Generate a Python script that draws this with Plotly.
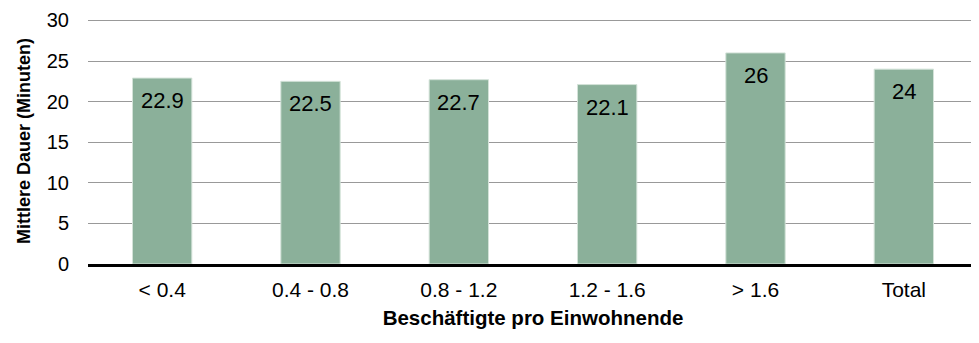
import plotly.graph_objects as go

categories = ['< 0.4', '0.4 - 0.8', '0.8 - 1.2', '1.2 - 1.6', '> 1.6', 'Total']
values = [22.9, 22.5, 22.7, 22.1, 26, 24]
labels = ['22.9', '22.5', '22.7', '22.1', '26', '24']

FONT = 'Liberation Sans, Arial, sans-serif'

fig = go.Figure(go.Bar(
    x=categories, y=values,
    marker=dict(color='#8bb09a', line=dict(color='#d3e2d8', width=1)),
    hoverinfo='x+y',
))

# value labels sit inside the bar, a little below its top
for cat, val, lab in zip(categories, values, labels):
    fig.add_annotation(x=cat, y=val, text=lab, showarrow=False,
                       yanchor='top', yshift=-8,
                       font=dict(family=FONT, size=22, color='black'))

# the page body has an 8px margin, so the figure is 8px smaller than the window
fig.update_layout(
    width=971, height=335,
    margin=dict(l=80, r=1, t=6, b=79),
    paper_bgcolor='white', plot_bgcolor='white',
    bargap=0.6,
    showlegend=False,
    font=dict(family=FONT, size=21, color='black'),
)
fig.update_xaxes(
    title=dict(text='<b>Beschäftigte pro Einwohnende</b>', font=dict(size=20.5), standoff=11),
    showline=True, linecolor='black', linewidth=2.5,
    ticks='', tickfont=dict(size=21), ticklabelstandoff=5,
)
# a little headroom above 30 so plotly keeps the top gridline
fig.update_yaxes(
    title=dict(text='<b>Mittlere Dauer (Minuten)</b>', font=dict(size=18), standoff=11),
    range=[0, 30.3], tickvals=[0, 5, 10, 15, 20, 25, 30],
    showgrid=True, gridcolor='#999999', gridwidth=1,
    zeroline=False, tickfont=dict(size=20), ticks='', ticklabelstandoff=18,
    ticklabeloverflow='allow',
)

fig.write_html('out.html')
